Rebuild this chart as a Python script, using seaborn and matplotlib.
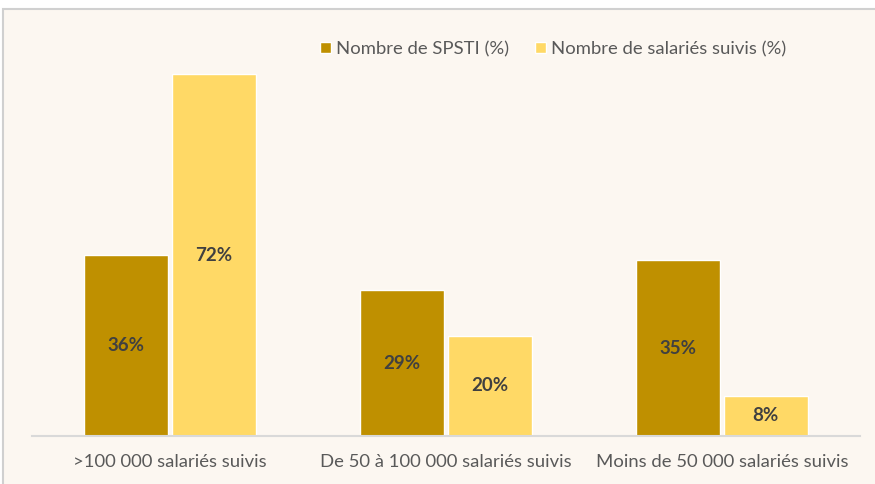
import pandas as pd
import matplotlib.pyplot as plt
import matplotlib
import seaborn as sns
from matplotlib.patches import Rectangle

categories = ['>100 000 salariés suivis', 'De 50 à 100 000 salariés suivis', 'Moins de 50 000 salariés suivis']
series = ['Nombre de SPSTI (%)', 'Nombre de salariés suivis (%)']
spsti = [36, 29, 35]
salaries = [72, 20, 8]

colors = ['#BF9000', '#FFD966']
bg = '#FCF7F1'
txt = '#595959'

df = pd.DataFrame({
    'cat': categories * 2,
    'serie': [series[0]] * 3 + [series[1]] * 3,
    'val': spsti + salaries,
})

sns.set_style('white')
plt.rcParams['font.family'] = ['Lato', 'DejaVu Sans']

fig = plt.figure(figsize=(8.75, 4.84), dpi=100)
fig.patch.set_facecolor('white')
# cadre du graphique
fig.patches.append(Rectangle((3 / 875, -0.1), 1.1, 1 - 9 / 484 + 0.1, transform=fig.transFigure,
                             facecolor=bg, edgecolor='#D0D0D0', linewidth=1.5, zorder=-10))

ax = fig.add_axes([32 / 875, 48 / 484, 828 / 875, 402 / 484])
ax.set_zorder(1)
ax.set_facecolor('none')

sns.barplot(data=df, x='cat', y='val', hue='serie', palette=colors, width=0.635, gap=0.035,
            ax=ax, saturation=1, legend=True)

for cont in ax.containers:
    ax.bar_label(cont, labels=[f'{v:.0f}%' for v in cont.datavalues], label_type='center',
                 fontsize=13.5, fontweight='bold', color='#404040')

ax.set_xlim(-0.5, 2.5)
ax.set_ylim(0, 80)
ax.set_yticks([])
ax.set_xlabel('')
ax.set_ylabel('')
for s in ['top', 'right', 'left']:
    ax.spines[s].set_visible(False)
ax.spines['bottom'].set_color('#D9D9D9')
ax.spines['bottom'].set_linewidth(1.5)
ax.tick_params(axis='x', length=0, pad=13, labelsize=13.3, labelcolor=txt)

ax.legend(loc='center', bbox_to_anchor=(553 / 875, 1 - 49 / 484), bbox_transform=fig.transFigure,
          ncol=2, frameon=False, handlelength=0.6, handleheight=0.6, handletextpad=0.25,
          columnspacing=1.4, fontsize=13.3, labelcolor=txt)

plt.savefig('out.png', dpi=100)
